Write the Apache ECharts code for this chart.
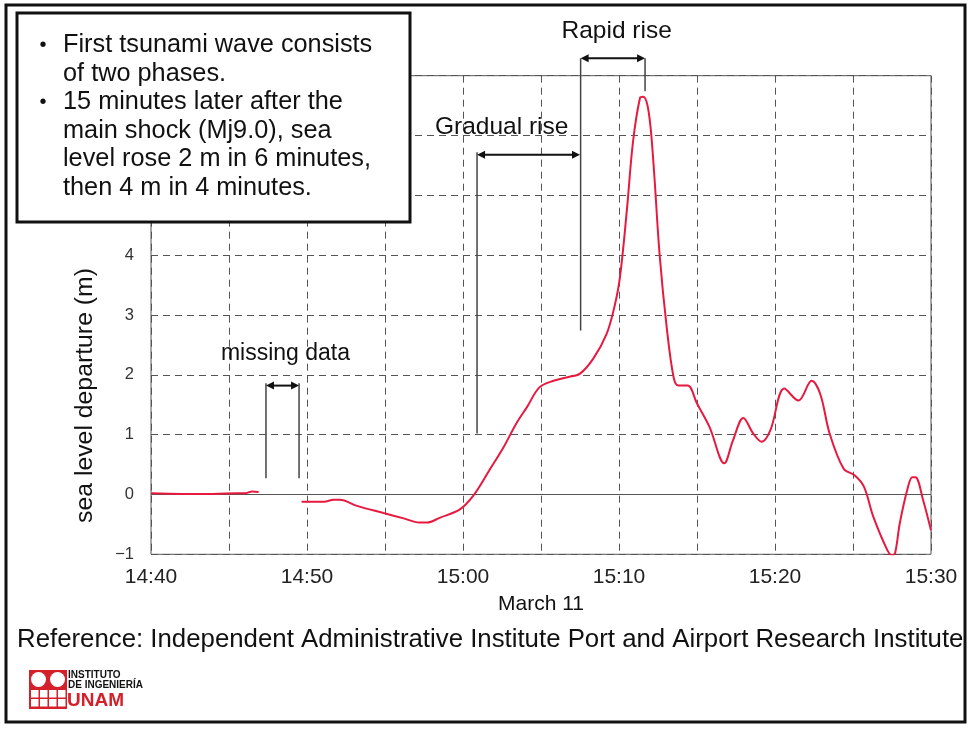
<!DOCTYPE html>
<html>
<head>
<meta charset="utf-8">
<script src="https://cdn.jsdelivr.net/npm/echarts@6/dist/echarts.min.js"></script>
<style>
html,body{margin:0;padding:0;background:#fff;}
#chart{width:969px;height:729px;}
</style>
</head>
<body>
<div id="chart"></div>
<script>
// minutes after 14:40 (March 11)
const minutes = [0, 2, 4, 5.5, 6.0, 6.5, 6.9, 8.0,
  9.65, 10.5, 11.1, 11.7, 12.1, 13.2, 14.9, 16.2, 17.2, 17.7, 18.5, 19.8,
  20.66, 21.7, 22.6, 23.4, 24.1, 24.9, 25.8, 26.7, 27.5, 28.35, 29.2, 29.7,
  30.06, 30.5, 30.9, 31.35, 31.56, 31.9, 32.2, 32.6, 33.06, 33.5, 33.8, 34.4,
  35.0, 35.8, 36.75, 37.3, 37.97, 38.6, 39.15, 39.7, 40.6, 41.5, 42.35, 42.9,
  43.5, 44.4, 45.1, 45.7, 46.3, 47.2, 47.5, 47.7, 48.0, 48.5, 48.8, 49.0, 49.5, 50];
// sea level departure (m); null = missing data
const seaLevel = [0.02, 0.01, 0.01, 0.02, 0.02, 0.05, 0.04, null,
  -0.12, -0.12, -0.12, -0.09, -0.09, -0.19, -0.31, -0.40, -0.47, -0.47, -0.39, -0.25,
  -0.02, 0.41, 0.79, 1.18, 1.46, 1.79, 1.90, 1.96, 2.02, 2.27, 2.68, 3.13,
  3.63, 4.74, 5.90, 6.63, 6.65, 6.40, 5.57, 4.02, 2.79, 1.96, 1.82, 1.82,
  1.52, 1.13, 0.52, 0.90, 1.28, 1.02, 0.88, 1.07, 1.77, 1.57, 1.90, 1.68,
  1.02, 0.43, 0.32, 0.13, -0.37, -0.93, -1.02, -0.98, -0.48, 0.10, 0.29, 0.29, -0.10, -0.60];
const xTickLabels = ['14:40', '14:50', '15:00', '15:10', '15:20', '15:30'];
const noteLines = [
  ['•', 'First tsunami wave consists'],
  ['', 'of two phases.'],
  ['•', '15 minutes later after the'],
  ['', 'main shock (Mj9.0), sea'],
  ['', 'level rose 2 m in 6 minutes,'],
  ['', 'then 4 m in 4 minutes.']
];

const FONT = '"Liberation Sans", Arial, sans-serif';
const chart = echarts.init(document.getElementById('chart'), null, {renderer: 'canvas'});

const seriesData = minutes.map((t, i) => [t, seaLevel[i] === null ? '-' : seaLevel[i]]);

chart.setOption({
  animation: false,
  backgroundColor: '#fff',
  grid: {left: 151, top: 75.7, width: 780, height: 478.6, show: true, borderColor: '#555', borderWidth: 1, containLabel: false},
  xAxis: {
    type: 'value', min: 0, max: 50, interval: 5,
    name: 'March 11', nameLocation: 'middle', nameGap: 39,
    nameTextStyle: {fontFamily: FONT, fontSize: 21, color: '#111'},
    axisLine: {show: false}, axisTick: {show: false},
    axisLabel: {margin: 12, fontFamily: FONT, fontSize: 21, color: '#222',
      formatter: v => (v % 10 === 0 ? xTickLabels[v / 10] : '')},
    splitLine: {show: true, lineStyle: {color: '#555', type: [7, 5], width: 1}}
  },
  yAxis: {
    type: 'value', min: -1, max: 7, interval: 1,
    axisLine: {show: false},
    axisTick: {show: true, inside: true, length: 4, lineStyle: {color: '#555'}},
    axisLabel: {margin: 17, fontFamily: FONT, fontSize: 16.5, color: '#333',
      formatter: v => (v < 0 ? '\u2212' + Math.abs(v) : String(v))},
    splitLine: {show: true, lineStyle: {color: '#555', type: [7, 5], width: 1}}
  },
  series: [{
    type: 'line', data: seriesData, smooth: 0.35, showSymbol: false, connectNulls: false,
    lineStyle: {color: '#e8193f', width: 2}, itemStyle: {color: '#e8193f'}, z: 5,
    markLine: {silent: true, symbol: ['none', 'none'], label: {show: false},
      lineStyle: {color: '#555', type: 'solid', width: 1.2}, data: [{yAxis: 0}]}
  }]
});

function P(t, v) { return chart.convertToPixel({gridIndex: 0}, [t, v]); }

function vLine(t, v1, v2) {
  const a = P(t, v1), b = P(t, v2);
  return {type: 'line', z: 50, shape: {x1: a[0], y1: a[1], x2: b[0], y2: b[1]}, style: {stroke: '#444', lineWidth: 1.5}};
}
function dArrow(t1, t2, v) {
  const a = P(t1, v), b = P(t2, v);
  const y = a[1], L = 8, H = 4;
  return [
    {type: 'line', z: 51, shape: {x1: a[0] + 3, y1: y, x2: b[0] - 3, y2: y}, style: {stroke: '#111', lineWidth: 2}},
    {type: 'polygon', z: 51, shape: {points: [[a[0], y], [a[0] + L, y - H], [a[0] + L, y + H]]}, style: {fill: '#111'}},
    {type: 'polygon', z: 51, shape: {points: [[b[0], y], [b[0] - L, y - H], [b[0] - L, y + H]]}, style: {fill: '#111'}}
  ];
}
function label(t, v, txt, size) {
  const p = P(t, v);
  return {type: 'text', z: 52, x: p[0], y: p[1], style: {text: txt, fill: '#111', font: size + 'px ' + FONT, align: 'center', verticalAlign: 'middle'}};
}

const g = [];
// y-axis title
g.push({type: 'text', z: 60, x: 85, y: 395.5, rotation: Math.PI / 2,
  style: {text: 'sea level departure (m)', font: '24.8px ' + FONT, fill: '#111', align: 'center', verticalAlign: 'middle'}});
// missing data
g.push(vLine(7.37, 0.27, 1.86), vLine(9.49, 0.27, 1.86));
g.push(...dArrow(7.37, 9.49, 1.82));
g.push(label(8.62, 2.355, 'missing data', 23));
// gradual rise
g.push(vLine(20.9, 1.02, 5.72), vLine(27.54, 2.74, 7.29));
g.push(...dArrow(20.9, 27.5, 5.68));
g.push(label(22.48, 6.13, 'Gradual rise', 24.5));
// rapid rise
g.push(vLine(31.67, 6.74, 7.29));
g.push(...dArrow(27.54, 31.67, 7.29));
g.push(label(29.85, 7.74, 'Rapid rise', 24.5));

// note box
g.push({type: 'rect', z: 90, shape: {x: 17, y: 13, width: 393, height: 209}, style: {fill: '#fff', stroke: '#111', lineWidth: 3}});
noteLines.forEach((ln, i) => {
  const y = 45 + i * 28.6;
  if (ln[0]) g.push({type: 'text', z: 91, x: 43, y: y, style: {text: ln[0], font: '20px ' + FONT, fill: '#111', align: 'center', verticalAlign: 'middle'}});
  g.push({type: 'text', z: 91, x: 63, y: y, style: {text: ln[1], font: '25.3px ' + FONT, fill: '#111', align: 'left', verticalAlign: 'middle'}});
});

// reference line
g.push({type: 'text', z: 60, x: 17, y: 640, style: {text: 'Reference: Independent Administrative Institute Port and Airport Research Institute', font: '25.8px ' + FONT, fill: '#111', align: 'left', verticalAlign: 'middle'}});

// logo
const red = '#d3202b';
g.push({type: 'rect', z: 60, shape: {x: 29, y: 670, width: 38, height: 39}, style: {fill: red}});
g.push({type: 'circle', z: 61, shape: {cx: 38.5, cy: 679.5, r: 7.5}, style: {fill: '#fff'}});
g.push({type: 'circle', z: 61, shape: {cx: 57.5, cy: 679.5, r: 7.5}, style: {fill: '#fff'}});
[[31, 690], [40, 690], [49, 690], [58, 690], [31, 699], [40, 699], [49, 699], [58, 699]].forEach(p => {
  g.push({type: 'rect', z: 61, shape: {x: p[0], y: p[1], width: 7.5, height: 7.5}, style: {fill: '#fff'}});
});
g.push({type: 'text', z: 61, x: 68, y: 675, style: {text: 'INSTITUTO', font: 'bold 10px "Liberation Sans Narrow", ' + FONT, fill: '#111', align: 'left', verticalAlign: 'middle'}});
g.push({type: 'text', z: 61, x: 68, y: 685, style: {text: 'DE INGENIERÍA', font: 'bold 10px "Liberation Sans Narrow", ' + FONT, fill: '#111', align: 'left', verticalAlign: 'middle'}});
g.push({type: 'text', z: 61, x: 67, y: 701, style: {text: 'UNAM', font: 'bold 19px "Liberation Sans Narrow", ' + FONT, fill: red, align: 'left', verticalAlign: 'middle'}});

// outer frame
g.push({type: 'rect', z: 95, shape: {x: 6, y: 5, width: 959, height: 717}, style: {fill: 'none', stroke: '#111', lineWidth: 3}});

chart.setOption({graphic: g});
</script>
</body>
</html>
